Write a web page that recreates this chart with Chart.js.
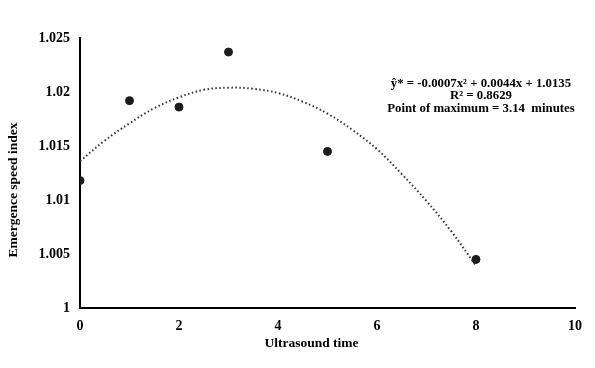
<!DOCTYPE html>
<html>
<head>
<meta charset="utf-8">
<script src="https://cdn.jsdelivr.net/npm/chart.js@4.4.1/dist/chart.umd.min.js"></script>
<style>
html, body { margin: 0; padding: 0; background: #fff; }
</style>
</head>
<body>
<canvas id="chart" width="595" height="368"></canvas>
<script>
// observed points
const ultrasoundTime = [0, 1, 2, 3, 5, 8];
const speedIndex = [1.0118, 1.0192, 1.0186, 1.0237, 1.0145, 1.0045];

// dotted trend line
const trendTime = [0, 0.5, 1, 1.5, 2, 2.5, 3, 3.5, 4, 4.5, 5, 5.5, 6, 6.5, 7, 7.5, 8];
const trendIndex = [1.0136, 1.0155, 1.0171, 1.0185, 1.0195, 1.0202, 1.0204, 1.0203, 1.0199,
                    1.0191, 1.0180, 1.0165, 1.0147, 1.0124, 1.0099, 1.0071, 1.0039];

const xTickLabels = ['0', '2', '4', '6', '8', '10'];
const yTickLabels = ['1', '1.005', '1.01', '1.015', '1.02', '1.025'];

const xTitle = 'Ultrasound time';
const yTitle = 'Emergence speed index';
const equationLines = [
    'ŷ* = -0.0007x² + 0.0044x + 1.0135',
    'R² = 0.8629',
    'Point of maximum = 3.14  minutes'
];

const serif = "'Liberation Serif', 'Times New Roman', serif";

// axis titles (a bit off-centre in the original) and the equation box
const extraText = {
    id: 'extraText',
    afterDraw(chart) {
        const ctx = chart.ctx;
        const area = chart.chartArea;
        ctx.save();
        ctx.fillStyle = '#000';
        ctx.textAlign = 'center';
        ctx.textBaseline = 'middle';

        ctx.font = 'bold 13.5px ' + serif;
        ctx.fillText(xTitle, (area.left + area.right) / 2 - 16, area.bottom + 36);

        ctx.save();
        ctx.translate(14, (area.top + area.bottom) / 2 + 17);
        ctx.rotate(-Math.PI / 2);
        ctx.fillText(yTitle, 0, 0);
        ctx.restore();

        ctx.font = 'bold 12.8px ' + serif;
        const x = chart.scales.x.getPixelForValue(8.1);
        const y0 = chart.scales.y.getPixelForValue(1.0208);
        equationLines.forEach((line, i) => ctx.fillText(line, x, y0 + i * 12.5));
        ctx.restore();
    }
};

const ctx = document.getElementById('chart').getContext('2d');

var chart = new Chart(ctx, {
    type: 'scatter',
    data: {
        datasets: [
            {
                label: 'Emergence speed index',
                data: ultrasoundTime.map((t, i) => ({ x: t, y: speedIndex[i] })),
                backgroundColor: '#1c1c1c',
                borderColor: '#1c1c1c',
                pointRadius: 4,
                order: 1
            },
            {
                label: 'Trend',
                data: trendTime.map((t, i) => ({ x: t, y: trendIndex[i] })),
                showLine: true,
                borderColor: '#333',
                borderWidth: 2,
                borderDash: [1.5, 2.5],
                pointRadius: 0,
                tension: 0.4,
                order: 2
            }
        ]
    },
    options: {
        responsive: false,
        animation: false,
        layout: {
            padding: { top: 38, right: 20, left: 0, bottom: 0 }
        },
        plugins: {
            legend: { display: false },
            tooltip: { enabled: false }
        },
        scales: {
            x: {
                type: 'linear',
                min: 0,
                max: 10,
                ticks: {
                    stepSize: 2,
                    padding: 10,
                    color: '#000',
                    font: { family: serif, size: 14, weight: 'bold' },
                    callback: (v, i) => xTickLabels[i]
                },
                grid: { display: false, drawTicks: false },
                border: { display: true, color: '#000', width: 2 },
                afterFit: s => { s.height = 60; }
            },
            y: {
                min: 1,
                max: 1.025,
                ticks: {
                    stepSize: 0.005,
                    padding: 10,
                    color: '#000',
                    font: { family: serif, size: 14, weight: 'bold' },
                    callback: (v, i) => yTickLabels[i]
                },
                grid: { display: false, drawTicks: false },
                border: { display: true, color: '#000', width: 2 },
                afterFit: s => { s.width = 80; }
            }
        }
    },
    plugins: [extraText]
});
</script>
</body>
</html>
